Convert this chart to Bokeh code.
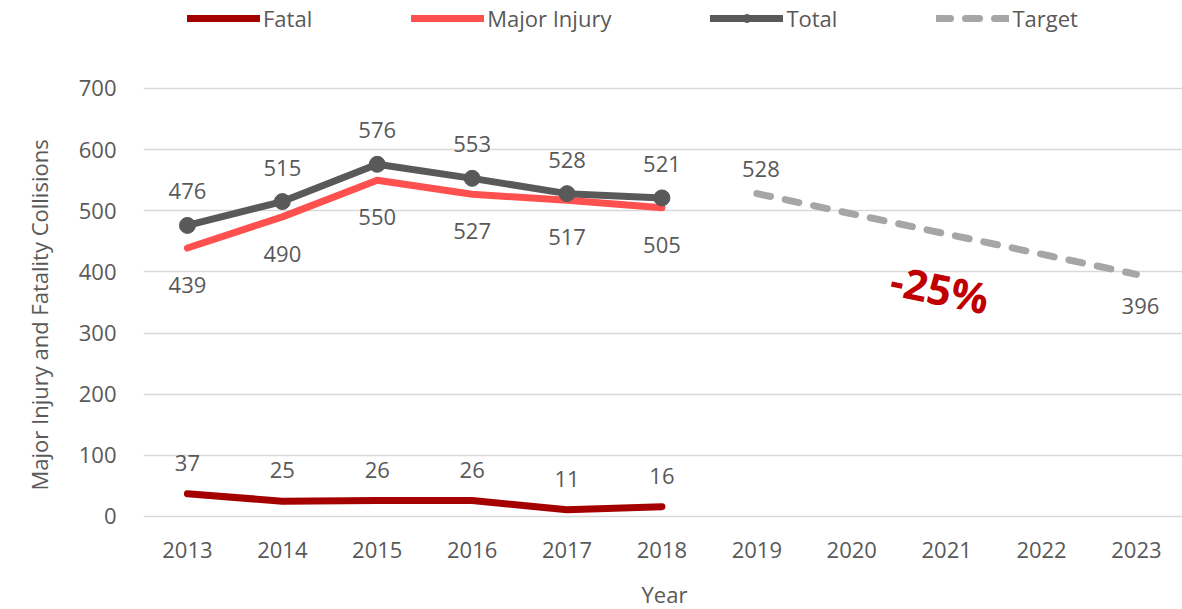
from bokeh.plotting import figure
from bokeh.models import (ColumnDataSource, Range1d, FixedTicker, LabelSet, Legend,
                          LegendItem, Label, Title)
from bokeh.core.properties import value
from bokeh.embed import file_html
from bokeh.resources import INLINE

# ---- data ----
years = [2013, 2014, 2015, 2016, 2017, 2018]
fatal = [37, 25, 26, 26, 11, 16]
major_injury = [439, 490, 550, 527, 517, 505]
total = [476, 515, 576, 553, 528, 521]
target_years = [2019, 2023]
target = [528, 396]
all_years = [2013, 2014, 2015, 2016, 2017, 2018, 2019, 2020, 2021, 2022, 2023]
y_ticks = [0, 100, 200, 300, 400, 500, 600, 700]
reduction_text = "-25%"
reduction_pos = (2020.93, 373)

FONT = "Open Sans"
TXT = "#595959"

p = figure(frame_width=1042, frame_height=519, output_backend="svg",
           toolbar_location=None,
           x_range=Range1d(2012.537, 2023.517), y_range=Range1d(-5, 843.9),
           min_border_left=140, min_border_right=0, min_border_top=0,
           min_border_bottom=90)
p.outline_line_color = None
p.background_fill_color = "white"
p.border_fill_color = "white"

# axes
p.xaxis.ticker = FixedTicker(ticks=all_years)
p.yaxis.ticker = FixedTicker(ticks=y_ticks)
for ax in (p.xaxis[0], p.yaxis[0]):
    ax.axis_line_color = None
    ax.major_tick_line_color = None
    ax.minor_tick_line_color = None
    ax.major_tick_out = 0
    ax.major_tick_in = 0
    ax.major_label_text_font = FONT
    ax.major_label_text_font_size = "22px"
    ax.major_label_text_color = TXT
    ax.axis_label_text_font = FONT
    ax.axis_label_text_font_size = "22px"
    ax.axis_label_text_font_style = "normal"
    ax.axis_label_text_color = TXT
p.xaxis.axis_label = "Year"
p.xaxis.major_label_standoff = 22
p.xaxis.axis_label_standoff = 18
p.yaxis.major_label_standoff = 27

ytitle = Title(text="Major Injury and Fatality Collisions", align="left", offset=29,
               text_font=FONT, text_font_size="22px", text_font_style="normal",
               text_color=TXT, standoff=43)
p.add_layout(ytitle, "left")

p.xgrid.grid_line_color = None
p.ygrid.grid_line_color = "#D9D9D9"
p.ygrid.grid_line_width = 1.5

# sources
src = ColumnDataSource(dict(year=years, fatal=fatal, major=major_injury, total=total))
tsrc = ColumnDataSource(dict(year=target_years, target=target))

r_fatal = p.line("year", "fatal", source=src, line_color="#A50000", line_width=7,
                 line_cap="round", line_join="round")
r_major = p.line("year", "major", source=src, line_color="#FF5050", line_width=7,
                 line_cap="round", line_join="round")
r_total = p.line("year", "total", source=src, line_color="#595959", line_width=7,
                 line_cap="round", line_join="round")
r_total_pts = p.scatter("year", "total", source=src, size=16, fill_color="#595959",
                        line_color="#595959")
r_target = p.line("year", "target", source=tsrc, line_color="#A6A6A6", line_width=7,
                  line_dash="14 15", line_cap="round", line_join="round")

def labels(source, field, yoff, xoff=0):
    ls = LabelSet(x="year", y=field, text=field, source=source, x_offset=xoff,
                  y_offset=yoff, text_align="center", text_baseline="middle",
                  text_font=value(FONT), text_font_size="22px", text_color=TXT)
    p.add_layout(ls)

labels(src, "fatal", 31)
labels(src, "major", -37)
labels(src, "total", 34)

t_first = ColumnDataSource(dict(year=target_years[:1], target=target[:1]))
t_last = ColumnDataSource(dict(year=target_years[-1:], target=target[-1:]))
labels(t_first, "target", 25, 4)
labels(t_last, "target", -32, 4)

p.add_layout(Label(x=reduction_pos[0], y=reduction_pos[1], text=reduction_text,
                   text_font=FONT, text_font_size="42px", text_font_style="bold",
                   text_color="#C00000", text_align="center", text_baseline="middle",
                   angle=-0.2))

legend = Legend(items=[
    LegendItem(label="Fatal", renderers=[r_fatal]),
    LegendItem(label="Major Injury", renderers=[r_major]),
    LegendItem(label="Total", renderers=[r_total, r_total_pts]),
    LegendItem(label="Target", renderers=[r_target]),
], orientation="horizontal", location=(44, 486),
   glyph_width=73, glyph_height=20, label_standoff=3, spacing=99,
   label_text_font=FONT, label_text_font_size="22px", label_text_color=TXT,
   border_line_color=None, background_fill_alpha=0, padding=0, margin=0)
p.add_layout(legend, "center")

open("out.html", "w").write(file_html(p, INLINE))
